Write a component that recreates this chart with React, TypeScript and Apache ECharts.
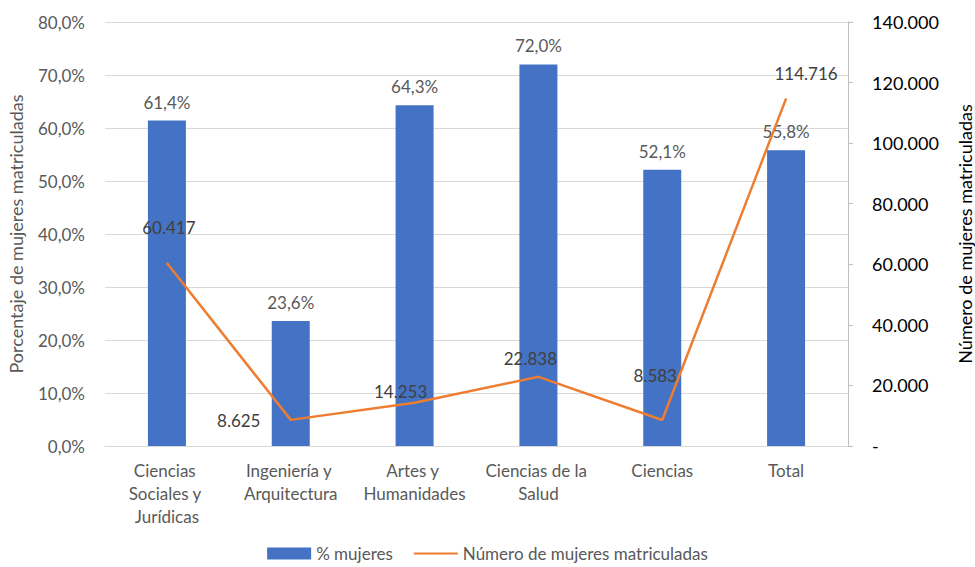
import React, { useEffect, useRef } from "react";
import * as echarts from "echarts";

const categories = [
  "Ciencias Sociales y Jurídicas",
  "Ingeniería y Arquitectura",
  "Artes y Humanidades",
  "Ciencias de la Salud",
  "Ciencias",
  "Total",
];
const pctMujeres = [61.4, 23.6, 64.3, 72.0, 52.1, 55.8];
const numMujeres = [60417, 8625, 14253, 22838, 8583, 114716];
const leftTicks = { min: 0, max: 80, interval: 10 };
const rightTicks = { min: 0, max: 140000, interval: 20000 };

const lineLabelOffsets = [
  [2, -36],
  [-52, 1],
  [-14, -11],
  [-8, -18],
  [-7, -45],
  [20, -25],
];

const FONT = "Lato, 'Open Sans', sans-serif";
const GREY = "#595959";

const fmtThousands = (v: number) =>
  String(Math.round(v)).replace(/\B(?=(\d{3})+(?!\d))/g, ".");

export default function App() {
  const ref = useRef<HTMLDivElement>(null);
  useEffect(() => {
    if (!ref.current) return;
    const chart = echarts.init(ref.current, undefined, { renderer: "svg" });
    chart.setOption({
      animation: false,
      textStyle: { fontFamily: FONT },
      grid: {
        left: 105,
        right: 127,
        top: 22,
        bottom: 121,
        containLabel: false,
        outerBoundsMode: "none",
      },
      legend: {
        bottom: 0,
        left: "center",
        itemWidth: 44,
        itemHeight: 12,
        itemGap: 20,
        textStyle: { fontSize: 17, color: GREY, fontFamily: FONT },
        data: [
          { name: "% mujeres", icon: "rect" },
          { name: "Número de mujeres matriculadas", itemStyle: { opacity: 0 } },
        ],
      },
      xAxis: {
        type: "category",
        data: categories,
        axisLine: { show: true, lineStyle: { color: "#d9d9d9" } },
        axisTick: { show: false },
        axisLabel: {
          color: GREY,
          fontSize: 17,
          fontFamily: FONT,
          margin: 13,
          lineHeight: 23,
          width: 112,
          overflow: "break",
          interval: 0,
        },
      },
      yAxis: [
        {
          type: "value",
          min: leftTicks.min,
          max: leftTicks.max,
          interval: leftTicks.interval,
          name: "Porcentaje de mujeres matriculadas",
          nameLocation: "middle",
          nameRotate: 90,
          nameGap: 80,
          nameTextStyle: { color: GREY, fontSize: 18, fontFamily: FONT },
          axisLine: { show: false },
          axisTick: { show: false },
          splitLine: { lineStyle: { color: "#d9d9d9", width: 1 } },
          axisLabel: {
            color: GREY,
            fontSize: 17,
            fontFamily: FONT,
            margin: 20,
            formatter: (v: number) => v.toFixed(1).replace(".", ",") + "%",
          },
        },
        {
          type: "value",
          position: "right",
          min: rightTicks.min,
          max: rightTicks.max,
          interval: rightTicks.interval,
          name: "Número de mujeres matriculadas",
          nameLocation: "middle",
          nameRotate: 90,
          nameGap: 108,
          nameTextStyle: { color: "#000", fontSize: 18, fontFamily: FONT },
          axisLine: { show: true, lineStyle: { color: "#bfbfbf" } },
          axisTick: { show: true, length: 5, lineStyle: { color: "#bfbfbf" } },
          splitLine: { show: false },
          axisLabel: {
            color: "#000",
            fontSize: 18,
            fontFamily: FONT,
            margin: 24,
            formatter: (v: number) => (v === 0 ? "-" : fmtThousands(v)),
          },
        },
      ],
      series: [
        {
          name: "% mujeres",
          type: "bar",
          yAxisIndex: 0,
          data: pctMujeres,
          barWidth: 38,
          itemStyle: { color: "#4472C4" },
          label: {
            show: true,
            position: "top",
            distance: 10,
            color: GREY,
            fontSize: 17,
            fontFamily: FONT,
            formatter: (p: any) => p.value.toFixed(1).replace(".", ",") + "%",
          },
        },
        {
          name: "Número de mujeres matriculadas",
          type: "line",
          yAxisIndex: 1,
          symbol: "circle",
          symbolSize: 1,
          showSymbol: true,
          itemStyle: { color: "#ED7D31" },
          lineStyle: { color: "#ED7D31", width: 2.5 },
          data: numMujeres.map((v, i) => ({
            value: v,
            label: { offset: lineLabelOffsets[i] },
          })),
          label: {
            show: true,
            position: "inside",
            color: "#404040",
            fontSize: 17,
            fontFamily: FONT,
            formatter: (p: any) => fmtThousands(p.value),
          },
          z: 3,
        },
      ],
    });
    return () => chart.dispose();
  }, []);
  return (
    <div
      ref={ref}
      style={{ position: "absolute", left: 0, top: 0, width: 975, height: 567 }}
    />
  );
}
